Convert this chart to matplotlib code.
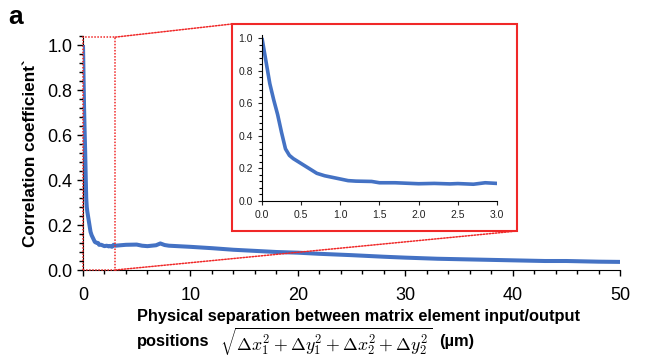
import matplotlib
matplotlib.use('Agg')
import matplotlib.pyplot as plt
from matplotlib.patches import Rectangle, ConnectionPatch
from matplotlib.ticker import MultipleLocator

plt.rcParams['font.family'] = ['Liberation Sans', 'DejaVu Sans']
plt.rcParams['mathtext.fontset'] = 'cm'

# separation (um) and correlation
sep = [0.0, 0.05, 0.1, 0.15, 0.2, 0.25, 0.3, 0.35, 0.4, 0.5, 0.6, 0.7, 0.8, 0.9,
       1.0, 1.1, 1.2, 1.4, 1.5, 1.7, 2.0, 2.2, 2.4, 2.5, 2.7, 2.85, 3.0,
       3.5, 4.0, 5.0, 5.5, 6.0, 6.8, 7.2, 7.6, 8.0, 10.0, 12.0, 14.0, 16.0,
       18.0, 20.0, 22.0, 25.0, 28.0, 30.0, 33.0, 36.0, 40.0, 43.0, 45.0, 48.0, 50.0]
corr = [1.0, 0.86, 0.72, 0.62, 0.53, 0.42, 0.32, 0.28, 0.26, 0.23, 0.20, 0.17, 0.155, 0.145,
        0.135, 0.125, 0.122, 0.12, 0.112, 0.112, 0.106, 0.108, 0.105, 0.107, 0.103, 0.112, 0.108,
        0.11, 0.112, 0.113, 0.108, 0.106, 0.11, 0.118, 0.111, 0.108, 0.103, 0.097, 0.09, 0.085,
        0.08, 0.077, 0.072, 0.066, 0.059, 0.055, 0.05, 0.047, 0.043, 0.04, 0.04, 0.037, 0.036]

zoom_max = 3.0
blue = '#4472C4'
red = '#F02828'

fig = plt.figure(figsize=(6.52, 3.58), dpi=100)

ax = fig.add_axes([0.1273, 0.2458, 0.8237, 0.6536])
ax.plot(sep, corr, color=blue, lw=2.9, solid_capstyle='butt', zorder=3)
ax.set_xlim(0, 50)
ax.set_ylim(0, 1.04)
ax.xaxis.set_major_locator(MultipleLocator(10))
ax.xaxis.set_minor_locator(MultipleLocator(2))
ax.yaxis.set_major_locator(MultipleLocator(0.2))
ax.yaxis.set_minor_locator(MultipleLocator(0.04))
ax.yaxis.set_major_formatter(plt.FuncFormatter(lambda v, p: '%.1f' % v))
ax.tick_params(which='major', direction='out', length=4, width=1, labelsize=13)
ax.tick_params(which='minor', direction='out', length=3, width=1)
ax.tick_params(axis='x', pad=8)
for s in ['top', 'right']:
    ax.spines[s].set_visible(False)
ax.set_ylabel('Correlation coefficient`', fontsize=12.3, fontweight='bold', labelpad=7)

# dotted zoom region
ax.add_patch(Rectangle((0, 0), zoom_max, 1.035, fill=False, ec=red, lw=1.1,
                       ls=(0, (1, 1)), zorder=4, clip_on=False))

# inset
axi = fig.add_axes([0.4018, 0.4385, 0.3604, 0.4645])
axi.plot(sep, corr, color=blue, lw=2.6, solid_capstyle='butt')
axi.set_xlim(0, zoom_max)
axi.set_ylim(0, 1.02)
axi.xaxis.set_major_locator(MultipleLocator(0.5))
axi.yaxis.set_major_locator(MultipleLocator(0.2))
axi.yaxis.set_minor_locator(MultipleLocator(0.04))
axi.xaxis.set_major_formatter(plt.FuncFormatter(lambda v, p: '%.1f' % v))
axi.yaxis.set_major_formatter(plt.FuncFormatter(lambda v, p: '%.1f' % v))
axi.tick_params(which='major', direction='out', length=3, width=0.8, labelsize=7.5, colors='#222222')
axi.tick_params(which='minor', direction='out', length=2, width=0.8)
for s in ['top', 'right']:
    axi.spines[s].set_visible(False)

# red box round the inset
fig.add_artist(Rectangle((0.3558, 0.3547), 0.4372, 0.5783, transform=fig.transFigure,
                         fill=False, ec=red, lw=1.5))

# connector lines
for xy_data, xy_fig in [((zoom_max, 1.035), (0.3558, 0.933)), ((zoom_max, 0), (0.793, 0.3547))]:
    cp = ConnectionPatch(xyA=xy_data, coordsA=ax.transData, xyB=xy_fig, coordsB=fig.transFigure,
                         color=red, lw=1.1, ls=(0, (1, 1)))
    fig.add_artist(cp)

fig.text(0.012, 0.985, 'a', fontsize=19, fontweight='bold', va='top')

fig.text(0.21, 0.117, 'Physical separation between matrix element input/output',
         fontsize=11.8, fontweight='bold', va='center')
fig.text(0.21, 0.045, 'positions', fontsize=11.8, fontweight='bold', va='center')
fig.text(0.338, 0.045, r'$\sqrt{\Delta x_1^2 + \Delta y_1^2 + \Delta x_2^2 + \Delta y_2^2}$',
         fontsize=12.8, va='center')
fig.text(0.674, 0.045, '(µm)', fontsize=11.8, fontweight='bold', va='center')

fig.savefig('out.png', dpi=100)
